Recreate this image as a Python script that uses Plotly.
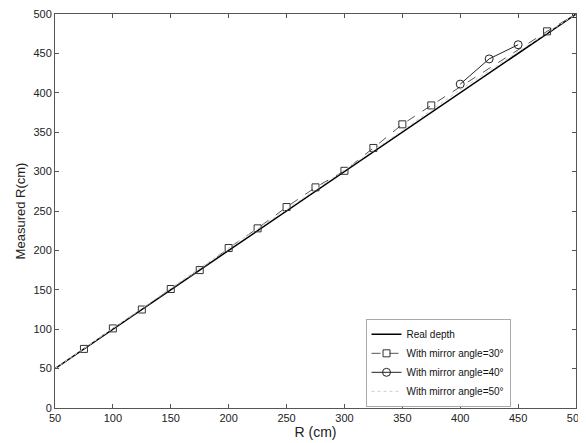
import plotly.graph_objects as go

# real depth (reference line)
real_x = [50, 500]
real_y = [50, 500]

# mirror angle = 30 deg
r30_x = [75, 100, 125, 150, 175, 200, 225, 250, 275, 300, 325, 350, 375, 475, 500]
r30_y = [75, 101, 125, 151, 175, 203, 228, 255, 280, 301, 330, 360, 384, 478, 500]

# mirror angle = 40 deg
r40_x = [400, 425, 450]
r40_y = [411, 443, 461]

# mirror angle = 50 deg
r50_x = [50, 100, 150, 200, 250, 300, 350, 400, 450, 500]
r50_y = [50, 101, 152, 203, 252, 302, 352, 404, 452, 500]

xticks = [50, 100, 150, 200, 250, 300, 350, 400, 450, 500]
yticks = [0, 50, 100, 150, 200, 250, 300, 350, 400, 450, 500]

fig = go.Figure()
fig.add_trace(go.Scatter(x=real_x, y=real_y, name='Real depth', mode='lines',
                         line=dict(color='black', width=1.5)))
fig.add_trace(go.Scatter(x=r30_x, y=r30_y, name='With mirror angle=30°', mode='lines+markers',
                         line=dict(color='#555', width=1, dash='dash'),
                         marker=dict(symbol='square-open', size=7, color='#333',
                                     line=dict(width=1))))
fig.add_trace(go.Scatter(x=r40_x, y=r40_y, name='With mirror angle=40°', mode='lines+markers',
                         line=dict(color='#222', width=1),
                         marker=dict(symbol='circle-open', size=8, color='#222',
                                     line=dict(width=1))))
fig.add_trace(go.Scatter(x=r50_x, y=r50_y, name='With mirror angle=50°', mode='lines',
                         line=dict(color='#ccc', width=1, dash='dot')))

axis_style = dict(showline=True, linecolor='#555', linewidth=1, mirror='ticks',
                  ticks='inside', ticklen=4, tickcolor='#555', showgrid=False,
                  zeroline=False, automargin=False, ticklabeloverflow='allow',
                  tickfont=dict(family='Liberation Sans', size=11, color='#222'))

# page body has an 8px margin, so the figure is sized/offset to fit the window
fig.update_layout(
    width=578, height=435,
    plot_bgcolor='white', paper_bgcolor='white',
    margin=dict(l=47, r=10, t=6, b=35),
    showlegend=True,
    font=dict(family='Liberation Sans', color='#222'),
    xaxis=dict(range=[50, 500], tickvals=xticks,
               title=dict(text='R (cm)', font=dict(size=14), standoff=0), **axis_style),
    yaxis=dict(range=[0, 500], tickvals=yticks,
               title=dict(text='Measured R(cm)', font=dict(size=13), standoff=4), **axis_style),
    legend=dict(x=0.596, y=0.003, xanchor='left', yanchor='bottom',
                bgcolor='white', bordercolor='#aaa', borderwidth=1,
                font=dict(size=10, color='#111'), tracegroupgap=0,
                itemwidth=30),
)

fig.write_html("out.html")
